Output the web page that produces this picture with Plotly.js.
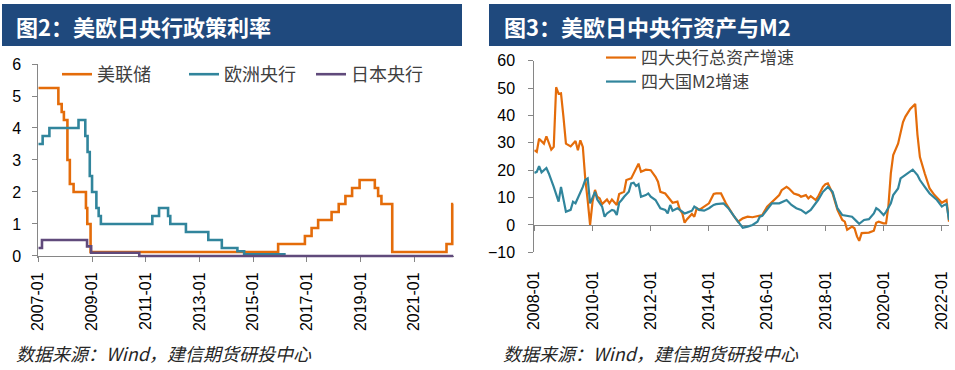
<!DOCTYPE html>
<html><head><meta charset="utf-8">
<script src="https://cdn.plot.ly/plotly-3.0.1.min.js"></script>
<style>html,body{margin:0;padding:0;background:#fff;}#chart{width:955px;height:370px;}</style>
</head><body><div id="chart"></div>
<script>
// ---------- 图2 : policy rates (change points, step lines) ----------
const fedDates = ['2007-01-01','2007-10-01','2007-11-15','2007-12-15','2008-02-01','2008-03-05','2008-04-25','2008-10-10','2008-10-28','2008-12-12','2015-12-07','2016-12-05','2017-03-06','2017-06-03','2017-12-03','2018-03-10','2018-06-09','2018-09-08','2018-12-19','2019-07-14','2019-08-28','2019-10-12','2020-03-07','2022-03-15','2022-06-01','2022-06-15'];
const fedRates = [5.25,4.75,4.5,4.25,3.0,2.25,2.0,1.5,1.0,0.125,0.375,0.625,0.875,1.125,1.375,1.625,1.875,2.125,2.375,2.125,1.875,1.625,0.125,0.375,1.625,1.625];

const ecbDates = ['2007-01-01','2007-03-01','2007-06-01','2008-07-01','2008-10-01','2008-11-01','2008-12-01','2009-01-01','2009-03-01','2009-04-01','2009-05-01','2011-04-01','2011-07-01','2011-11-01','2011-12-01','2012-07-01','2013-05-01','2013-11-01','2014-06-01','2014-09-01','2016-03-01'];
const ecbRates = [3.5,3.75,4.0,4.25,3.75,3.25,2.5,2.0,1.5,1.25,1.0,1.25,1.5,1.25,1.0,0.75,0.5,0.25,0.15,0.05,0];

const bojDates = ['2007-01-01','2007-02-20','2008-10-25','2008-12-20','2010-10-05','2022-06-15'];
const bojRates = [0.25,0.5,0.3,0.1,0,0];

const rateNames = ['美联储','欧洲央行','日本央行'];

// ---------- 图3 : central bank assets vs M2 growth ----------
const assetDates = ['2008-01','2008-02','2008-03','2008-05','2008-06','2008-07','2008-08','2008-09','2008-10','2008-11','2008-12','2009-01','2009-02','2009-04','2009-06','2009-07','2009-08','2009-09','2009-10','2009-11','2009-12','2010-01','2010-02','2010-03','2010-04','2010-05','2010-06','2010-07','2010-08','2010-09','2010-11','2010-12','2011-02','2011-03','2011-05','2011-06','2011-08','2011-09','2011-11','2012-01','2012-03','2012-04','2012-05','2012-07','2012-09','2012-10','2012-12','2013-01','2013-02','2013-03','2013-04','2013-06','2013-07','2013-08','2013-09','2013-11','2014-01','2014-03','2014-04','2014-06','2014-08','2014-11','2015-01','2015-03','2015-05','2015-07','2015-09','2015-11','2016-01','2016-03','2016-06','2016-07','2016-09','2016-10','2016-12','2017-02','2017-03','2017-05','2017-06','2017-07','2017-09','2017-10','2017-12','2018-01','2018-02','2018-04','2018-06','2018-08','2018-09','2018-10','2018-12','2019-01','2019-02','2019-03','2019-04','2019-07','2019-09','2019-10','2019-11','2020-01','2020-02','2020-03','2020-04','2020-05','2020-07','2020-09','2020-10','2020-12','2021-02','2021-03','2021-04','2021-06','2021-08','2021-10','2021-12','2022-01','2022-03','2022-04'];
const assetGrowth = [27.3,26.7,31.5,29.7,32.4,30.3,27.5,28.5,50.3,47.9,48.1,39.4,29.7,28.7,30.7,27.3,30.9,28.5,17,9,0,8.5,12.8,10.3,9.7,7.6,8.5,9.3,7.9,9.3,7.3,11.3,12.1,16.4,17,19,22.4,19.4,20.2,20,17.6,15.8,12.1,11.5,9.1,8.1,8.5,5.5,4.2,0.8,2.1,4,3,6.1,5.5,6.7,7.9,11.3,11.5,11.5,7.9,3.6,1.2,2.4,3,2.8,3.3,3.6,6.7,8.5,10.9,12.7,13.9,13.3,11.5,10.9,10.3,10.9,9.7,10.5,9.1,10.3,13.9,14.9,15.2,11.5,5.5,1.8,1.2,-1.8,-0.6,-1.2,-4.2,-5.8,-3,-2.8,-2.1,0.8,1.2,0.6,0.6,6.7,18.8,25.5,29.7,37.6,39.6,42.4,44.2,33,24.8,18.8,13.3,10.9,9.1,8.1,9.1,1.2];

const m2Dates = ['2008-01','2008-02','2008-03','2008-04','2008-06','2008-07','2008-09','2008-10','2008-11','2008-12','2009-01','2009-02','2009-04','2009-05','2009-06','2009-08','2009-09','2009-10','2009-11','2009-12','2010-01','2010-02','2010-03','2010-05','2010-06','2010-07','2010-09','2010-10','2010-11','2010-12','2011-01','2011-02','2011-04','2011-05','2011-06','2011-07','2011-08','2011-09','2011-11','2011-12','2012-01','2012-03','2012-05','2012-07','2012-08','2012-09','2012-10','2012-12','2013-01','2013-03','2013-04','2013-06','2013-07','2013-09','2013-11','2014-01','2014-03','2014-04','2014-07','2014-09','2014-12','2015-03','2015-05','2015-07','2015-09','2015-10','2015-11','2016-02','2016-03','2016-06','2016-09','2016-11','2017-01','2017-03','2017-05','2017-07','2017-09','2017-10','2017-12','2018-02','2018-04','2018-05','2018-06','2018-08','2018-10','2018-12','2019-02','2019-03','2019-05','2019-07','2019-09','2019-10','2019-11','2020-01','2020-02','2020-04','2020-05','2020-07','2020-08','2020-10','2020-12','2021-01','2021-03','2021-04','2021-06','2021-08','2021-11','2022-01','2022-02','2022-03','2022-04'];
const m2Growth = [19,19.4,21.5,19.2,20.8,18.8,13.9,11.5,8.5,13.9,9.1,4.8,5.5,8.5,7.9,11.5,13.9,16.4,17,7.9,10.3,12.1,9.3,6.7,3,4.2,5.5,5.2,3.6,8.1,9.1,10.3,12.1,15.2,15.4,14.2,14.9,10.3,10.9,11.5,10.3,9.1,6.1,5.5,4.2,7.3,5.2,6.1,5.5,4.2,4.5,5.2,6.7,5.5,5.2,6.1,7.3,7.6,7.9,6.1,2.4,-1,-0.6,0,1.2,3,3.3,6.7,7.9,7.9,9.1,7.3,6.1,5.5,4.2,5.5,7.9,9.1,12.1,13.9,12.1,9.1,6.1,3.6,3.3,3,1.2,0.4,1.8,2.1,4.2,6.1,5.5,3.6,4.8,7.9,10.9,13.3,17,18.2,19.4,20.2,18.2,16.4,13.9,11.5,9.1,6.7,7.3,7.6,1.8];
const growthNames = ['四大央行总资产增速','四大国M2增速'];

const leftTickStart = '2007-01-01', rightTickStart = '2008-01-01';

// ---------- layout helpers ----------
const W = 955, H = 370;
const px = x => x / W, py = y => (H - y) / H;
const zeroPos = (dom, rng) => dom[0] + (0 - rng[0]) / (rng[1] - rng[0]) * (dom[1] - dom[0]);

const ORANGE = '#E46C0A', TEAL = '#31859C', PURPLE = '#604A7B', NAVY = '#1F497D', AX = '#868686';
const CJK = '"Noto Sans CJK SC", "Noto Sans", sans-serif';
const NUM = '"Liberation Sans", Arial, sans-serif';

const lY = {dom: [py(257.9), py(64)], rng: [-0.06, 6]};
const rY = {dom: [py(252.3), py(60.7)], rng: [-10, 60]};

const traces = [
  {x: fedDates, y: fedRates, name: rateNames[0], type: 'scatter', mode: 'lines', line: {color: ORANGE, width: 2.6, shape: 'hv'}, xaxis: 'x', yaxis: 'y', legend: 'legend'},
  {x: ecbDates, y: ecbRates, name: rateNames[1], type: 'scatter', mode: 'lines', line: {color: TEAL, width: 2.6, shape: 'hv'}, xaxis: 'x', yaxis: 'y', legend: 'legend'},
  {x: bojDates, y: bojRates, name: rateNames[2], type: 'scatter', mode: 'lines', line: {color: PURPLE, width: 2.6, shape: 'hv'}, xaxis: 'x', yaxis: 'y', legend: 'legend'},
  {x: assetDates, y: assetGrowth, name: growthNames[0], type: 'scatter', mode: 'lines', line: {color: ORANGE, width: 2.2}, xaxis: 'x2', yaxis: 'y2', legend: 'legend2'},
  {x: m2Dates, y: m2Growth, name: growthNames[1], type: 'scatter', mode: 'lines', line: {color: TEAL, width: 2.2}, xaxis: 'x2', yaxis: 'y2', legend: 'legend3'}
];

const xCommon = {
  type: 'date', showgrid: false, zeroline: false, showline: true, linecolor: AX, linewidth: 1,
  ticks: 'outside', ticklen: 5, tickcolor: AX, dtick: 'M24', tickformat: '%Y-%m', tickangle: -90,
  tickfont: {family: NUM, size: 16, color: '#000'}, anchor: 'free', layer: 'below traces', fixedrange: true
};
const yCommon = {
  showgrid: false, zeroline: false, showline: true, linecolor: AX, linewidth: 1,
  ticks: 'outside', ticklen: 5, tickcolor: AX, tickfont: {family: NUM, size: 16, color: '#000'}, fixedrange: true
};
const legendCommon = {xanchor: 'left', yanchor: 'top', bgcolor: 'rgba(0,0,0,0)', font: {family: CJK, size: 18, color: '#404040'}, itemclick: false};

const layout = {
  width: W, height: H, margin: {l: 0, r: 0, t: 0, b: 0},
  paper_bgcolor: '#fff', plot_bgcolor: 'rgba(0,0,0,0)', showlegend: true,
  xaxis: Object.assign({}, xCommon, {domain: [px(38.3), px(454)], range: ['2007-01-01', '2022-06-25'], tick0: leftTickStart,
    position: zeroPos(lY.dom, lY.rng), ticklabelstandoff: 4}),
  yaxis: Object.assign({}, yCommon, {domain: lY.dom, range: lY.rng, tick0: 0, dtick: 1, ticklabelstandoff: 8}),
  xaxis2: Object.assign({}, xCommon, {domain: [px(534.3), px(949)], range: ['2008-01-01', '2022-04-01'], tick0: rightTickStart,
    position: zeroPos(rY.dom, rY.rng), ticklabelstandoff: 34}),
  yaxis2: Object.assign({}, yCommon, {domain: rY.dom, range: rY.rng, tick0: -10, dtick: 10, anchor: 'x2', ticklabelstandoff: 10}),
  legend: Object.assign({}, legendCommon, {orientation: 'h', x: px(57), y: py(56), entrywidth: 82, entrywidthmode: 'pixels'}),
  legend2: Object.assign({}, legendCommon, {orientation: 'v', x: px(601), y: py(40), font: {family: CJK, size: 17, color: '#404040'}}),
  legend3: Object.assign({}, legendCommon, {orientation: 'v', x: px(601), y: py(64), font: {family: CJK, size: 17, color: '#404040'}}),
  shapes: [
    {type: 'rect', xref: 'paper', yref: 'paper', x0: px(2), x1: px(462), y0: py(46), y1: py(4), fillcolor: NAVY, line: {width: 0}, layer: 'below'},
    {type: 'rect', xref: 'paper', yref: 'paper', x0: px(489), x1: px(951), y0: py(46), y1: py(4), fillcolor: NAVY, line: {width: 0}, layer: 'below'}
  ],
  annotations: [
    {text: '图2：美欧日央行政策利率', xref: 'paper', yref: 'paper', x: px(14), y: py(26), xanchor: 'left', yanchor: 'middle', showarrow: false,
      font: {family: CJK, size: 22, color: '#fff', weight: 'bold'}},
    {text: '图3：美欧日中央行资产与M2', xref: 'paper', yref: 'paper', x: px(502), y: py(26), xanchor: 'left', yanchor: 'middle', showarrow: false,
      font: {family: CJK, size: 22, color: '#fff', weight: 'bold'}},
    {text: '数据来源：Wind，建信期货研投中心', xref: 'paper', yref: 'paper', x: px(14), y: py(353), xanchor: 'left', yanchor: 'middle', showarrow: false,
      font: {family: CJK, size: 18, color: '#262626', style: 'italic'}},
    {text: '数据来源：Wind，建信期货研投中心', xref: 'paper', yref: 'paper', x: px(501), y: py(353), xanchor: 'left', yanchor: 'middle', showarrow: false,
      font: {family: CJK, size: 18, color: '#262626', style: 'italic'}}
  ]
};

Plotly.newPlot('chart', traces, layout, {displayModeBar: false, staticPlot: true});
</script>
</body></html>
